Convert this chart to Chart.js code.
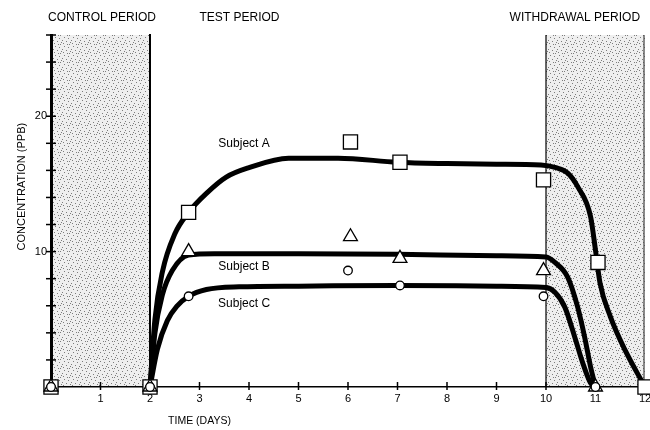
<!DOCTYPE html>
<html>
<head>
<meta charset="utf-8">
<script src="https://cdn.jsdelivr.net/npm/chart.js@4"></script>
<style>
  html, body { margin: 0; padding: 0; background: #fff; }
  #wrap { width: 650px; height: 430px; position: relative; }
</style>
</head>
<body>
<div id="wrap"><canvas id="chart"></canvas></div>
<script>
// fitted curves, [day, ppb]
const curveA = [[2,0],[2.1,5],[2.25,8.5],[2.5,11.3],[2.78,12.9],[3.14,14.3],[3.54,15.5],[4,16.2],[4.8,16.9],[5.8,16.9],[7,16.6],[8,16.5],[9,16.45],[9.9,16.4],[10.2,16.2],[10.44,15.8],[10.64,14.8],[10.9,12.6],[11,10.1],[11.09,7.7],[11.3,5.2],[11.6,2.7],[12,0]];
const curveB = [[2,0],[2.1,4],[2.25,6.8],[2.45,8.6],[2.78,9.75],[3.3,9.85],[5,9.85],[7,9.8],[9,9.7],[10,9.6],[10.18,9.2],[10.44,8.1],[10.64,5.9],[10.78,3.7],[10.9,1.5],[11,0]];
const curveC = [[2,0],[2.15,2.8],[2.35,4.9],[2.55,6],[2.78,6.7],[3.14,7.2],[3.8,7.4],[5,7.45],[7,7.5],[9,7.45],[10,7.35],[10.18,7],[10.38,5.9],[10.58,3.7],[10.74,1.8],[10.9,0.3],[11,0]];

// measured points
const pointsA = [[0,0],[2,0],[2.78,12.9],[6.05,18.1],[7.05,16.6],[9.95,15.3],[11.05,9.2],[12,0]];
const pointsB = [[0,0],[2,0],[2.78,10],[6.05,11.1],[7.05,9.5],[9.95,8.6],[11,0]];
const pointsC = [[0,0],[2,0],[2.78,6.7],[6,8.6],[7.05,7.5],[9.95,6.7],[11,0]];

const yLabelled = [10, 20];
const periods = ['CONTROL PERIOD', 'TEST PERIOD', 'WITHDRAWAL PERIOD'];
const shaded = [[0, 2], [10, 12]];

const FONT = '"Liberation Sans", Arial, sans-serif';
const toXY = arr => arr.map(([x, y]) => ({ x, y }));

function stipplePattern(ctx) {
  const p = document.createElement('canvas');
  p.width = p.height = 9;
  const g = p.getContext('2d');
  g.fillStyle = '#efefef';
  g.fillRect(0, 0, 9, 9);
  g.fillStyle = '#7d7d7d';
  [[1,1],[5,2],[3,5],[7,6],[0,7],[8,4],[4,8],[6,8]].forEach(([a, b]) => g.fillRect(a, b, 1, 1));
  return ctx.createPattern(p, 'repeat');
}

const backdrop = {
  id: 'backdrop',
  beforeDraw(chart) {
    const { ctx, chartArea: a, scales: { x } } = chart;
    ctx.save();
    ctx.fillStyle = stipplePattern(ctx);
    shaded.forEach(([s, e]) => {
      const l = x.getPixelForValue(s), r = x.getPixelForValue(e);
      ctx.fillRect(l, a.top, r - l, a.bottom - a.top);
    });
    ctx.restore();
  },
  beforeDatasetsDraw(chart) {
    const { ctx, chartArea: a, scales: { x, y } } = chart;
    ctx.save();
    ctx.strokeStyle = '#000';
    // period boundaries
    ctx.lineWidth = 2;
    ctx.beginPath();
    ctx.moveTo(x.getPixelForValue(2), a.top - 1);
    ctx.lineTo(x.getPixelForValue(2), a.bottom);
    ctx.stroke();
    ctx.lineWidth = 1.2;
    ctx.beginPath();
    ctx.moveTo(x.getPixelForValue(10), a.top);
    ctx.lineTo(x.getPixelForValue(10), a.bottom);
    ctx.stroke();
    ctx.strokeStyle = '#444';
    ctx.beginPath();
    ctx.moveTo(x.getPixelForValue(12) - 1, a.top);
    ctx.lineTo(x.getPixelForValue(12) - 1, a.bottom);
    ctx.stroke();
    // tick marks crossing the axes
    ctx.strokeStyle = '#000';
    ctx.lineWidth = 1.5;
    y.ticks.forEach(t => {
      const p = y.getPixelForValue(t.value);
      ctx.beginPath();
      ctx.moveTo(a.left - 5, p);
      ctx.lineTo(a.left + 5, p);
      ctx.stroke();
    });
    x.ticks.forEach(t => {
      if (t.value === 0) return;
      const p = x.getPixelForValue(t.value);
      ctx.beginPath();
      ctx.moveTo(p, a.bottom - 5);
      ctx.lineTo(p, a.bottom + 3);
      ctx.stroke();
    });
    ctx.restore();
  },
  afterDraw(chart) {
    const { ctx, scales: { x, y } } = chart;
    ctx.save();
    ctx.fillStyle = '#000';
    ctx.textBaseline = 'middle';
    ctx.font = '12px ' + FONT;
    ctx.textAlign = 'left';
    ctx.fillText(periods[0], x.getPixelForValue(0) - 3, 18);
    ctx.fillText(periods[1], x.getPixelForValue(3), 18);
    ctx.textAlign = 'right';
    ctx.fillText(periods[2], x.getPixelForValue(11.9), 18);

    ctx.textAlign = 'center';
    ctx.fillText('Subject A', x.getPixelForValue(3.9), y.getPixelForValue(18));
    ctx.fillText('Subject B', x.getPixelForValue(3.9), y.getPixelForValue(8.86));
    ctx.fillText('Subject C', x.getPixelForValue(3.9), y.getPixelForValue(6.13));

    ctx.font = '10.5px ' + FONT;
    ctx.fillText('TIME (DAYS)', x.getPixelForValue(3), 421);
    ctx.translate(22, y.getPixelForValue(14.8));
    ctx.rotate(-Math.PI / 2);
    ctx.font = '11px ' + FONT;
    ctx.fillText('CONCENTRATION (PPB)', 0, 0);
    ctx.restore();
  }
};

const curve = data => ({
  data: toXY(data), showLine: true, borderColor: '#000', borderWidth: 5,
  pointRadius: 0, cubicInterpolationMode: 'monotone', fill: false,
  borderCapStyle: 'round', borderJoinStyle: 'round'
});
const marks = (data, style, r) => ({
  data: toXY(data), showLine: false, pointStyle: style, pointRadius: r,
  backgroundColor: '#fff', borderColor: '#000', borderWidth: 1.3, clip: false
});

new Chart(document.getElementById('chart'), {
  type: 'scatter',
  data: {
    datasets: [
      marks(pointsC, 'circle', 4.3),
      marks(pointsB, 'triangle', 8),
      marks(pointsA, 'rect', 10),
      curve(curveA),
      curve(curveB),
      curve(curveC)
    ]
  },
  options: {
    responsive: true,
    maintainAspectRatio: false,
    animation: false,
    layout: { autoPadding: false, padding: { top: 35, right: 5, left: 0, bottom: 0 } },
    plugins: { legend: { display: false }, tooltip: { enabled: false } },
    scales: {
      x: {
        type: 'linear', min: 0, max: 12,
        grid: { display: false, drawTicks: false },
        border: { display: true, color: '#000', width: 1.5 },
        ticks: {
          stepSize: 1, autoSkip: false, maxRotation: 0, padding: 5, color: '#000',
          font: { family: FONT, size: 11 },
          callback: v => v === 0 ? '' : v
        },
        afterFit: s => { s.height = 43; s.paddingLeft = 0; s.paddingRight = 0; }
      },
      y: {
        min: 0, max: 26,
        grid: { display: false, drawTicks: false },
        border: { display: true, color: '#000', width: 3 },
        ticks: {
          stepSize: 2, autoSkip: false, padding: 4, color: '#000',
          font: { family: FONT, size: 11 },
          callback: v => yLabelled.includes(v) ? v : ''
        },
        afterFit: s => { s.width = 51; s.paddingTop = 0; s.paddingBottom = 0; }
      }
    }
  },
  plugins: [backdrop]
});
</script>
</body>
</html>
